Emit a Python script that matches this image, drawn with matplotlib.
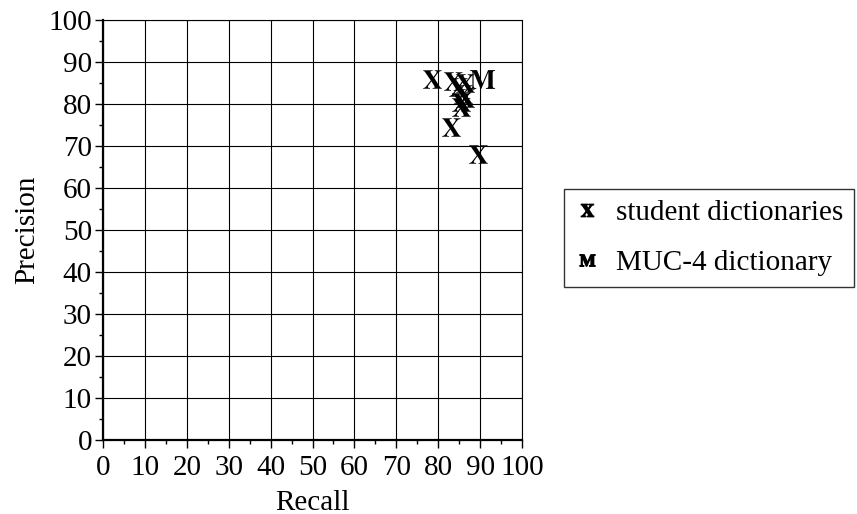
import numpy as np
import matplotlib
matplotlib.use('Agg')
import matplotlib.pyplot as plt
from matplotlib.lines import Line2D

plt.rcParams['font.family'] = ['Liberation Serif', 'DejaVu Serif']
plt.rcParams['mathtext.fontset'] = 'stix'

# student dictionaries (recall, precision)
student_recall = [78.5, 83.5, 86.3, 84.8, 86.0, 86.5, 85.5, 85.5, 83.0, 89.5]
student_precision = [86.0, 85.5, 85.0, 84.0, 82.5, 81.5, 80.5, 79.2, 74.5, 68.2]
# MUC-4 dictionary
muc_recall = [90.5]
muc_precision = [86.0]

ticks = np.arange(0, 101, 10)

fig = plt.figure(figsize=(8.57, 5.14), dpi=100)
ax = fig.add_axes([103/857, 1 - 440/514, 419/857, 420/514])

ax.scatter(student_recall, student_precision, marker=r'$\mathbf{X}$', s=180, c='k', linewidths=0, zorder=3)
ax.scatter(muc_recall, muc_precision, marker=r'$\mathbf{M}$', s=330, c='k', linewidths=0, zorder=3)

ax.set_xlim(0, 100)
ax.set_ylim(0, 100)
ax.set_xticks(ticks)
ax.set_yticks(ticks)
ax.set_xticks(np.arange(5, 100, 10), minor=True)
ax.set_yticks(np.arange(5, 100, 10), minor=True)
ax.grid(True, color='k', linewidth=0.8)
ax.tick_params(which='major', direction='out', length=6, width=1, labelsize=21, pad=2)
ax.tick_params(axis='x', which='major', pad=5)
ax.tick_params(which='minor', direction='out', length=3, width=1)
for s in ['left', 'bottom']:
    ax.spines[s].set_linewidth(1.6)
for s in ['top', 'right']:
    ax.spines[s].set_linewidth(0.8)
ax.set_xlabel('Recall', fontsize=21, labelpad=6)
ax.set_ylabel('Precision', fontsize=21, labelpad=6)

handles = [
    Line2D([], [], linestyle='none', marker=r'$\mathbf{X}$', color='k', markersize=9),
    Line2D([], [], linestyle='none', marker=r'$\mathbf{M}$', color='k', markersize=11),
]
leg = fig.legend(handles, ['student dictionaries', 'MUC-4 dictionary'],
                 loc='upper left', bbox_to_anchor=(564/857, 1 - 189/514),
                 fontsize=21, frameon=True, fancybox=False, edgecolor='k',
                 handlelength=0.8, handletextpad=0.6, borderpad=0.38, labelspacing=0.8,
                 borderaxespad=0)
leg.get_frame().set_linewidth(1.0)

fig.savefig('out.png', dpi=100)
